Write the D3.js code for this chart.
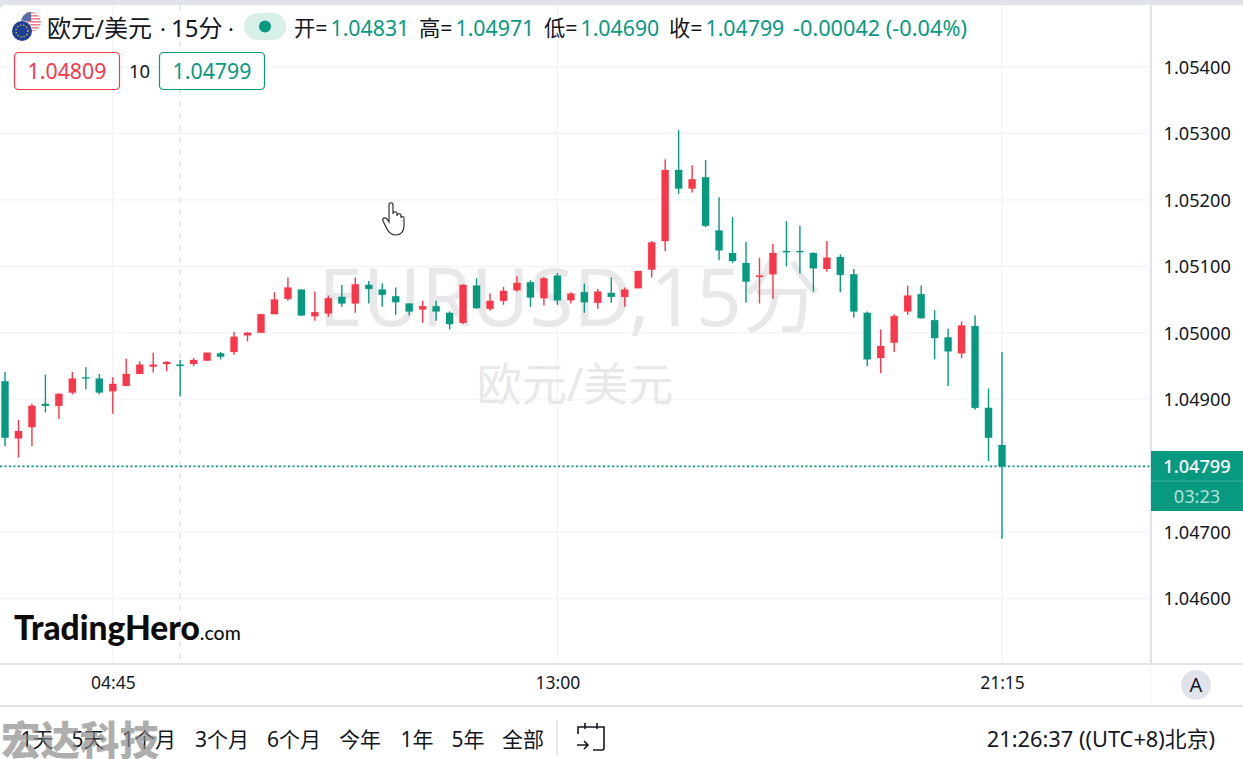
<!DOCTYPE html>
<html><head><meta charset="utf-8">
<script src="https://cdn.jsdelivr.net/npm/d3@7"></script>
<style>
html,body{margin:0;padding:0;background:#fff;overflow:hidden}
svg{display:block}
text{font-family:"Noto Sans","Noto Sans CJK SC",sans-serif}
</style></head><body>
<svg id="c" width="1243" height="759"></svg>
<script>
const opens =[1.04927,1.04841,1.04858,1.04893,1.04890,1.04910,1.04933,1.04931,1.04912,1.04920,1.04938,1.04949,1.04953,1.04952,1.04953,1.04958,1.04969,1.04971,1.04996,1.05000,1.05028,1.05051,1.05065,1.05025,1.05029,1.05054,1.05044,1.05072,1.05065,1.05055,1.05044,1.05035,1.05040,1.05030,1.05015,1.05071,1.05036,1.05048,1.05064,1.05076,1.05052,1.05086,1.05049,1.05061,1.05045,1.05060,1.05054,1.05067,1.05095,1.05138,1.05245,1.05217,1.05234,1.05154,1.05120,1.05105,1.05084,1.05088,1.05123,1.05123,1.05120,1.05096,1.05114,1.05088,1.05030,1.04962,1.04985,1.05032,1.05058,1.05019,1.04993,1.04969,1.05010,1.04887,1.04831];
const closes=[1.04842,1.04852,1.04890,1.04890,1.04908,1.04931,1.04932,1.04910,1.04923,1.04938,1.04952,1.04952,1.04956,1.04950,1.04959,1.04970,1.04964,1.04994,1.05000,1.05028,1.05050,1.05068,1.05026,1.05031,1.05052,1.05044,1.05073,1.05066,1.05057,1.05046,1.05032,1.05040,1.05032,1.05013,1.05072,1.05037,1.05048,1.05063,1.05075,1.05053,1.05082,1.05049,1.05059,1.05046,1.05062,1.05054,1.05065,1.05093,1.05136,1.05245,1.05217,1.05231,1.05161,1.05124,1.05108,1.05077,1.05086,1.05120,1.05122,1.05122,1.05097,1.05113,1.05087,1.05032,1.04960,1.04980,1.05025,1.05056,1.05022,1.04992,1.04972,1.05011,1.04887,1.04842,1.04799];
const highs =[1.04941,1.04869,1.04893,1.04937,1.04909,1.04941,1.04948,1.04938,1.04933,1.04961,1.04957,1.04970,1.04957,1.04959,1.04962,1.04970,1.04971,1.05001,1.05001,1.05028,1.05061,1.05083,1.05065,1.05062,1.05056,1.05072,1.05083,1.05078,1.05074,1.05068,1.05044,1.05048,1.05048,1.05032,1.05073,1.05082,1.05059,1.05069,1.05085,1.05079,1.05084,1.05090,1.05061,1.05074,1.05066,1.05083,1.05068,1.05093,1.05138,1.05261,1.05305,1.05252,1.05260,1.05204,1.05174,1.05137,1.05113,1.05134,1.05168,1.05161,1.05121,1.05138,1.05118,1.05096,1.05032,1.05005,1.05028,1.05071,1.05071,1.05034,1.05006,1.05017,1.05026,1.04916,1.04971];
const lows  =[1.04829,1.04812,1.04829,1.04880,1.04870,1.04907,1.04915,1.04907,1.04878,1.04920,1.04938,1.04940,1.04942,1.04904,1.04950,1.04958,1.04960,1.04967,1.04987,1.05000,1.05028,1.05048,1.05026,1.05018,1.05024,1.05039,1.05030,1.05044,1.05039,1.05027,1.05026,1.05015,1.05018,1.05005,1.05013,1.05036,1.05033,1.05042,1.05062,1.05039,1.05041,1.05042,1.05044,1.05030,1.05036,1.05045,1.05039,1.05067,1.05083,1.05123,1.05209,1.05211,1.05159,1.05109,1.05105,1.05045,1.05044,1.05051,1.05100,1.05089,1.05062,1.05092,1.05061,1.05023,1.04950,1.04939,1.04971,1.05027,1.05021,1.04960,1.04920,1.04962,1.04884,1.04807,1.04690];
const priceTicks=[1.054,1.053,1.052,1.051,1.05,1.049,1.048,1.047,1.046];
const axisLabelTicks=[1.054,1.053,1.052,1.051,1.05,1.049,1.047,1.046];
const timeTickIndex=[8,41,74];
const timeTickLabels=["04:45","13:00","21:15"];
const ranges=["1天","5天","1个月","3个月","6个月","今年","1年","5年","全部"];
const rangeX=[37,88,149,222,294,360,417,468,523];

const RED="#f7374a",GREEN="#089981",DARK="#131722",GRID="#f2f3f9",LINE="#e0e3eb";
const svg=d3.select("#c");
const x=d3.scaleLinear().domain([0,74]).range([5,1002]);
const y=d3.scaleLinear().domain([1.046,1.054]).range([598.5,67]);
const PW=1151,PB=664;
const defs=svg.append("defs");
defs.append("clipPath").attr("id","pane").append("rect").attr("x",0).attr("y",5).attr("width",PW).attr("height",PB-5);
defs.append("clipPath").attr("id","us").append("circle").attr("cx",31).attr("cy",22).attr("r",10);
// grid
const pane=svg.append("g").attr("clip-path","url(#pane)");
pane.append("g").selectAll("line").data(priceTicks).join("line")
 .attr("x1",0).attr("x2",PW).attr("y1",d=>y(d)).attr("y2",d=>y(d)).attr("stroke",GRID).attr("stroke-width",1.3);
pane.append("g").selectAll("line").data(timeTickIndex).join("line")
 .attr("x1",d=>x(d)).attr("x2",d=>x(d)).attr("y1",5).attr("y2",PB).attr("stroke",GRID).attr("stroke-width",1.3);
// watermark
pane.append("text").attr("x",570).attr("y",326).attr("text-anchor","middle").attr("font-size",80).attr("fill","#e8e8ea").text("EURUSD,15分");
pane.append("text").attr("x",575).attr("y",401).attr("text-anchor","middle").attr("font-size",45).attr("fill","#e8e8ea").text("欧元/美元");
// crosshair
pane.append("line").attr("x1",x(13)).attr("x2",x(13)).attr("y1",5).attr("y2",PB).attr("stroke","#dfe2ec").attr("stroke-width",1.4).attr("stroke-dasharray","6 6");
// price line
pane.append("line").attr("x1",0).attr("x2",PW).attr("y1",y(closes[74])).attr("y2",y(closes[74])).attr("stroke",GREEN).attr("stroke-width",1.8).attr("stroke-dasharray","2 2.5");
// candles
const idx=d3.range(opens.length);
const col=i=>closes[i]>opens[i]?RED:GREEN;
const g=pane.append("g");
g.selectAll("line").data(idx).join("line")
 .attr("x1",x).attr("x2",x).attr("y1",i=>y(highs[i])).attr("y2",i=>y(lows[i]))
 .attr("stroke",col).attr("stroke-width",1.4);
g.selectAll("rect").data(idx).join("rect")
 .attr("x",i=>x(i)-3.6).attr("width",7.2)
 .attr("y",i=>y(Math.max(opens[i],closes[i])))
 .attr("height",i=>Math.max(1.2,Math.abs(y(opens[i])-y(closes[i]))))
 .attr("fill",col).attr("stroke",col).attr("stroke-opacity",0.25).attr("stroke-width",0.8);
// price axis
svg.append("rect").attr("x",PW).attr("y",0).attr("width",92).attr("height",PB).attr("fill","#fff");
const ya=svg.append("g").attr("transform",`translate(${PW},0.5)`).call(d3.axisRight(y).tickValues(axisLabelTicks).tickFormat(d3.format(".5f")).tickSize(0).tickPadding(12.5));
ya.select(".domain").remove();
ya.selectAll("text").attr("font-size",18.2).attr("fill",DARK).style("font-family",'"Noto Sans",sans-serif');
// borders
svg.append("path").attr("d","M0 0H1243V5H1150H6Q0 5 0 11Z").attr("fill",LINE);
svg.append("line").attr("x1",PW).attr("x2",PW).attr("y1",5).attr("y2",PB).attr("stroke",LINE).attr("stroke-width",2);
svg.append("line").attr("x1",0).attr("x2",1243).attr("y1",PB).attr("y2",PB).attr("stroke",LINE).attr("stroke-width",2);
svg.append("line").attr("x1",0).attr("x2",1243).attr("y1",706).attr("y2",706).attr("stroke",LINE).attr("stroke-width",2);
svg.append("line").attr("x1",PW).attr("x2",PW).attr("y1",664).attr("y2",705).attr("stroke","#f2f3f7").attr("stroke-width",1);
// last price label
svg.append("rect").attr("x",PW).attr("y",451).attr("width",92).attr("height",60).attr("fill",GREEN);
svg.append("line").attr("x1",PW).attr("x2",1243).attr("y1",481).attr("y2",481).attr("stroke","#3aad97").attr("stroke-width",1);
svg.append("text").attr("x",1197).attr("y",473).attr("text-anchor","middle").attr("font-size",18.2).attr("font-weight",500).attr("fill","#fff").text(d3.format(".5f")(closes[74]));
svg.append("text").attr("x",1197).attr("y",503).attr("text-anchor","middle").attr("font-size",18.2).attr("fill","#b5e0d7").text("03:23");
// time axis
const xa=svg.append("g").attr("transform",`translate(0,${PB})`).call(d3.axisBottom(x).tickValues(timeTickIndex).tickFormat((d,i)=>timeTickLabels[i]).tickSize(0).tickPadding(12.5));
xa.select(".domain").remove();
xa.selectAll("text").attr("font-size",17.5).attr("fill",DARK).style("font-family",'"Noto Sans",sans-serif');
svg.append("circle").attr("cx",1196).attr("cy",685).attr("r",15).attr("fill",LINE);
svg.append("text").attr("x",1196).attr("y",692).attr("text-anchor","middle").attr("font-size",20).attr("fill",DARK).text("A");
// header: flags
const us=svg.append("g").attr("clip-path","url(#us)");
us.append("rect").attr("x",21).attr("y",12).attr("width",20).attr("height",20).attr("fill","#fff");
us.selectAll("rect.s").data(d3.range(7)).join("rect").attr("class","s").attr("x",21).attr("y",d=>12+d*3).attr("width",20).attr("height",1.6).attr("fill","#e5808c");
us.append("rect").attr("x",21).attr("y",12).attr("width",10).attr("height",9).attr("fill","#5a6ca8");
svg.append("circle").attr("cx",22).attr("cy",31).attr("r",10.5).attr("fill","#fff");
svg.append("circle").attr("cx",22).attr("cy",31).attr("r",10).attr("fill","#1c3f94");
svg.append("circle").attr("cx",22).attr("cy",31).attr("r",6).attr("fill","none").attr("stroke","#d9c34a").attr("stroke-width",1.3).attr("stroke-dasharray","1.3 1.9");
// header: title
svg.append("text").attr("x",47).attr("y",37).attr("font-size",24).attr("fill",DARK).text("欧元/美元");
svg.append("text").attr("x",160).attr("y",37).attr("font-size",22).attr("fill",DARK).text("·");
svg.append("text").attr("x",171).attr("y",37).attr("font-size",24).attr("fill",DARK).text("15分");
svg.append("text").attr("x",228).attr("y",37).attr("font-size",22).attr("fill",DARK).text("·");
svg.append("rect").attr("x",244).attr("y",13).attr("width",42).attr("height",27).attr("rx",13.5).attr("fill","#d9efea");
svg.append("circle").attr("cx",265).attr("cy",26.5).attr("r",6).attr("fill",GREEN);
const ohlc=[["开=","1.04831",294],["高=","1.04971",419],["低=","1.04690",544],["收=","1.04799",669]];
ohlc.forEach(o=>{
 const t=svg.append("text").attr("x",o[2]).attr("y",36).attr("font-size",21.3);
 t.append("tspan").attr("fill",DARK).text(o[0]);
 t.append("tspan").attr("dx",3).attr("fill",GREEN).text(o[1]);
});
svg.append("text").attr("x",793).attr("y",36).attr("font-size",21.7).attr("fill",GREEN).text("-0.00042 (-0.04%)");
svg.append("rect").attr("x",14.5).attr("y",52.5).attr("width",105).attr("height",37).attr("rx",4).attr("fill","#fff").attr("stroke",RED).attr("stroke-width",1.2);
svg.append("text").attr("x",67).attr("y",79).attr("text-anchor","middle").attr("font-size",21.3).attr("fill",RED).text("1.04809");
svg.append("text").attr("x",139.5).attr("y",78).attr("text-anchor","middle").attr("font-size",18.5).attr("fill",DARK).text("10");
svg.append("rect").attr("x",159.5).attr("y",52.5).attr("width",105).attr("height",37).attr("rx",4).attr("fill","#fff").attr("stroke",GREEN).attr("stroke-width",1.2);
svg.append("text").attr("x",212).attr("y",79).attr("text-anchor","middle").attr("font-size",21.3).attr("fill",GREEN).text("1.04799");
// hand cursor
svg.append("path").attr("d","M389 205c0-3 4-3 4 0v9c0-3 4-3 4 0v2c0-3 4-3 4 0v2c0-2 3-2 3 0v8c0 5-3 9-8 9s-7-2-9-6l-4-8c-1-3 2-4 4-2l2 3z").attr("fill","#fff").attr("stroke","#333").attr("stroke-width",1.2);
// logo
const logo=svg.append("text").attr("x",14).attr("y",640).attr("font-size",33.5).style("font-family","Lato,sans-serif");
logo.append("tspan").attr("font-weight",900).attr("fill","#0c0c0c").text("TradingHero");
logo.append("tspan").attr("font-size",19.5).attr("font-weight",500).attr("fill","#111").text(".com");
// toolbar
svg.append("g").selectAll("text").data(ranges).join("text").attr("x",(d,i)=>rangeX[i]).attr("y",747).attr("text-anchor","middle").attr("font-size",21).attr("fill",DARK).text(d=>d);
svg.append("line").attr("x1",557).attr("x2",557).attr("y1",720).attr("y2",755).attr("stroke",LINE).attr("stroke-width",1.5);
svg.append("path").attr("d","M578 734v-7h26v21a2 2 0 0 1-2 2h-9M585 723v6M597 723v6M577 745h11m-4-4 4 4-4 4").attr("fill","none").attr("stroke",DARK).attr("stroke-width",1.6);
svg.append("text").attr("x",1215).attr("y",747).attr("text-anchor","end").attr("font-size",21.8).attr("fill",DARK).text("21:26:37 ((UTC+8)北京)");
svg.append("text").attr("x",1).attr("y",755).attr("font-size",39.5).attr("font-weight",900).attr("fill","#8a8a8a").attr("fill-opacity",0.7).style("font-family",'"Noto Sans CJK SC"').text("宏达科技");
</script>
</body></html>
